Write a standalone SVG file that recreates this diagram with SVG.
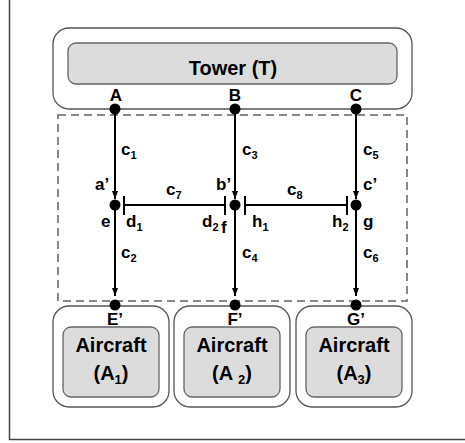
<svg xmlns="http://www.w3.org/2000/svg" width="465" height="443" viewBox="0 0 465 443">
<defs>
<style>
.outer{fill:#fff;stroke:#555;stroke-width:1.3}
.inner{fill:#dcdcdc;stroke:#666;stroke-width:1.3}
.big{font-family:"Liberation Sans",Arial,sans-serif;font-weight:bold;font-size:20px;fill:#000;text-anchor:middle}
.lbl{font-family:"Liberation Sans",Arial,sans-serif;font-weight:bold;font-size:17px;fill:#000}
.sub{font-size:11px}
.ln{stroke:#000;stroke-width:2;fill:none}
.dot{fill:#000}
</style>
<marker id="arr" viewBox="0 0 8 6" refX="8" refY="3" markerWidth="8" markerHeight="6" markerUnits="userSpaceOnUse" orient="auto">
<path d="M0,0 L8,3 L0,6 z" fill="#000"/>
</marker>
</defs>
<rect width="465" height="443" fill="#fff"/>
<path d="M9.5,0 V439.5 H465" fill="none" stroke="#444" stroke-width="1.5"/>

<g id="tower">
<rect class="outer" x="53" y="28" width="359" height="81" rx="16"/>
<rect class="inner" x="68" y="43" width="329" height="41" rx="8"/>
<text class="big" x="233" y="75" font-size="22">Tower (T)</text>
<text class="lbl" x="116" y="101" text-anchor="middle">A</text>
<text class="lbl" x="235" y="101" text-anchor="middle">B</text>
<text class="lbl" x="356" y="101" text-anchor="middle">C</text>
</g>

<g id="region">
<rect x="58" y="115" width="349" height="186" fill="none" stroke="#888" stroke-width="2" stroke-dasharray="8,5"/>
</g>

<g id="a1">
<rect class="outer" x="53" y="306" width="116" height="101" rx="16"/>
<rect class="inner" x="63" y="327" width="96" height="70" rx="8"/>
<text class="big" x="111" y="352">Aircraft</text>
<text class="big" x="111" y="380">(A<tspan font-size="13" dy="4">1</tspan><tspan dy="-4">)</tspan></text>
<text class="lbl" x="115" y="325" text-anchor="middle">E’</text>
</g>
<g id="a2">
<rect class="outer" x="174" y="306" width="116" height="101" rx="16"/>
<rect class="inner" x="184" y="327" width="96" height="70" rx="8"/>
<text class="big" x="232" y="352">Aircraft</text>
<text class="big" x="232" y="380">(A <tspan font-size="13" dy="4">2</tspan><tspan dy="-4">)</tspan></text>
<text class="lbl" x="235" y="325" text-anchor="middle">F’</text>
</g>
<g id="a3">
<rect class="outer" x="296" y="306" width="116" height="101" rx="16"/>
<rect class="inner" x="306" y="327" width="96" height="70" rx="8"/>
<text class="big" x="354" y="352">Aircraft</text>
<text class="big" x="354" y="380">(A<tspan font-size="13" dy="4">3</tspan><tspan dy="-4">)</tspan></text>
<text class="lbl" x="356" y="325" text-anchor="middle">G’</text>
</g>

<g id="connectors">
<line class="ln" x1="115" y1="109" x2="115" y2="199" marker-end="url(#arr)"/>
<line class="ln" x1="115" y1="205" x2="115" y2="296" marker-end="url(#arr)"/>
<line class="ln" x1="235" y1="109" x2="235" y2="199" marker-end="url(#arr)"/>
<line class="ln" x1="235" y1="205" x2="235" y2="296" marker-end="url(#arr)"/>
<line class="ln" x1="356" y1="109" x2="356" y2="199" marker-end="url(#arr)"/>
<line class="ln" x1="356" y1="205" x2="356" y2="296" marker-end="url(#arr)"/>
<line class="ln" x1="124" y1="205" x2="225" y2="205"/>
<line class="ln" x1="124" y1="196" x2="124" y2="215"/>
<line class="ln" x1="225" y1="196" x2="225" y2="215"/>
<line class="ln" x1="245" y1="205" x2="347" y2="205"/>
<line class="ln" x1="245" y1="196" x2="245" y2="215"/>
<line class="ln" x1="347" y1="196" x2="347" y2="215"/>
</g>

<g id="dots">
<circle class="dot" cx="115" cy="109" r="5.5"/>
<circle class="dot" cx="235" cy="109" r="5.5"/>
<circle class="dot" cx="356" cy="109" r="5.5"/>
<circle class="dot" cx="115" cy="205" r="5.5"/>
<circle class="dot" cx="235" cy="205" r="5.5"/>
<circle class="dot" cx="356" cy="205" r="5.5"/>
<circle class="dot" cx="115" cy="305" r="5.5"/>
<circle class="dot" cx="235" cy="305" r="5.5"/>
<circle class="dot" cx="356" cy="305" r="5.5"/>
</g>

<g id="labels">
<text class="lbl" x="121" y="155">c<tspan class="sub" dy="4">1</tspan></text>
<text class="lbl" x="121" y="258">c<tspan class="sub" dy="4">2</tspan></text>
<text class="lbl" x="242" y="155">c<tspan class="sub" dy="4">3</tspan></text>
<text class="lbl" x="242" y="258">c<tspan class="sub" dy="4">4</tspan></text>
<text class="lbl" x="363" y="155">c<tspan class="sub" dy="4">5</tspan></text>
<text class="lbl" x="363" y="258">c<tspan class="sub" dy="4">6</tspan></text>
<text class="lbl" x="166" y="195">c<tspan class="sub" dy="4">7</tspan></text>
<text class="lbl" x="287" y="195">c<tspan class="sub" dy="4">8</tspan></text>
<text class="lbl" x="95" y="190">a’</text>
<text class="lbl" x="216" y="190">b’</text>
<text class="lbl" x="363" y="190">c’</text>
<text class="lbl" x="101" y="227">e</text>
<text class="lbl" x="126" y="227">d<tspan class="sub" dy="4">1</tspan></text>
<text class="lbl" x="202" y="227">d<tspan class="sub" dy="4">2</tspan></text>
<text class="lbl" x="221" y="233">f</text>
<text class="lbl" x="252" y="227">h<tspan class="sub" dy="4">1</tspan></text>
<text class="lbl" x="332" y="227">h<tspan class="sub" dy="4">2</tspan></text>
<text class="lbl" x="363" y="227">g</text>
</g>
</svg>
